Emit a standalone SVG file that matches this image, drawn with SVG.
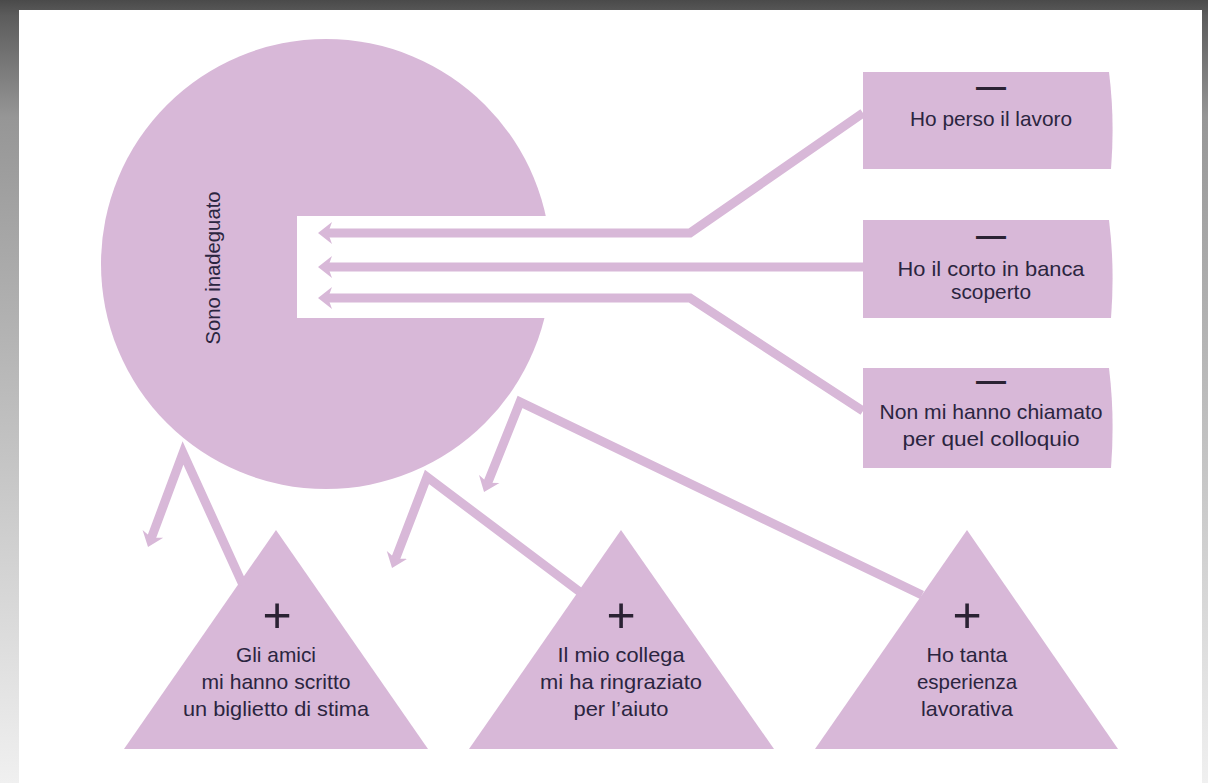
<svg xmlns="http://www.w3.org/2000/svg" width="1208" height="783" viewBox="0 0 1208 783">
  <defs>
    <linearGradient id="frameShade" x1="0" y1="0" x2="0" y2="1">
      <stop offset="0" stop-color="#4a4a4a"/>
      <stop offset="0.02" stop-color="#5c5c5c"/>
      <stop offset="0.15" stop-color="#969696"/>
      <stop offset="1" stop-color="#f0f0f0"/>
    </linearGradient>
    <marker id="head" markerUnits="userSpaceOnUse" markerWidth="16" markerHeight="24" viewBox="0 0 16 24" refX="6" refY="12" orient="auto">
      <path d="M0,1 L14,12 L0,23 L4,12 Z" fill="#d8b8d8"/>
    </marker>
    <style>
      .shape { fill: #d8b8d8; }
      .link { fill: none; stroke: #d8b8d8; stroke-width: 9; stroke-linejoin: miter; stroke-miterlimit: 10; marker-end: url(#head); }
      .lbl { font-family: "Liberation Sans", Arial, sans-serif; font-size: 21px; fill: #2b2540; text-anchor: middle; }
      .sign { font-family: "Liberation Sans", Arial, sans-serif; fill: #2a2233; text-anchor: middle; }
      .minus { font-size: 30px; font-weight: bold; }
      .plus { font-size: 50px; }
    </style>
  </defs>

  <!-- photo frame -->
  <rect x="0" y="0" width="1208" height="783" fill="url(#frameShade)"/>
  <rect x="19" y="10" width="1183" height="773" fill="#ffffff"/>

  <!-- central belief -->
  <g id="belief">
    <circle class="shape" cx="326" cy="264" r="225"/>
    <rect x="297" y="216" width="270" height="102" fill="#ffffff"/>
    <text class="lbl" transform="translate(220,268) rotate(-90)" textLength="153" lengthAdjust="spacingAndGlyphs">Sono inadeguato</text>
  </g>

  <!-- negative facts -->
  <g id="neg-lavoro">
    <path class="shape" d="M863,72 H1109 Q1115,120 1111,169 H863 Z"/>
    <text class="sign minus" x="991" y="97">—</text>
    <text class="lbl" x="991" y="126" textLength="162" lengthAdjust="spacingAndGlyphs">Ho perso il lavoro</text>
  </g>
  <g id="neg-conto">
    <path class="shape" d="M863,220 H1109 Q1115,268 1111,318 H863 Z"/>
    <text class="sign minus" x="991" y="246">—</text>
    <text class="lbl" x="991" y="276" textLength="187" lengthAdjust="spacingAndGlyphs">Ho il corto in banca</text>
    <text class="lbl" x="991" y="299" textLength="80" lengthAdjust="spacingAndGlyphs">scoperto</text>
  </g>
  <g id="neg-colloquio">
    <path class="shape" d="M863,368 H1109 Q1115,417 1111,468 H863 Z"/>
    <text class="sign minus" x="991" y="391">—</text>
    <text class="lbl" x="991" y="419" textLength="223" lengthAdjust="spacingAndGlyphs">Non mi hanno chiamato</text>
    <text class="lbl" x="991" y="446" textLength="177" lengthAdjust="spacingAndGlyphs">per quel colloquio</text>
  </g>

  <!-- positive facts -->
  <g id="pos-amici">
    <polygon class="shape" points="276,530 124,749 428,749"/>
    <text class="sign plus" x="277" y="632">+</text>
    <text class="lbl" x="276" y="662" textLength="80" lengthAdjust="spacingAndGlyphs">Gli amici</text>
    <text class="lbl" x="276" y="689" textLength="149" lengthAdjust="spacingAndGlyphs">mi hanno scritto</text>
    <text class="lbl" x="276" y="716" textLength="186" lengthAdjust="spacingAndGlyphs">un biglietto di stima</text>
  </g>
  <g id="pos-collega">
    <polygon class="shape" points="621,530 469,749 774,749"/>
    <text class="sign plus" x="621" y="632">+</text>
    <text class="lbl" x="621" y="662" textLength="127" lengthAdjust="spacingAndGlyphs">Il mio collega</text>
    <text class="lbl" x="621" y="689" textLength="162" lengthAdjust="spacingAndGlyphs">mi ha ringraziato</text>
    <text class="lbl" x="621" y="716" textLength="95" lengthAdjust="spacingAndGlyphs">per l’aiuto</text>
  </g>
  <g id="pos-esperienza">
    <polygon class="shape" points="967,530 815,749 1118,749"/>
    <text class="sign plus" x="967" y="632">+</text>
    <text class="lbl" x="967" y="662" textLength="81" lengthAdjust="spacingAndGlyphs">Ho tanta</text>
    <text class="lbl" x="967" y="689" textLength="100" lengthAdjust="spacingAndGlyphs">esperienza</text>
    <text class="lbl" x="967" y="716" textLength="92" lengthAdjust="spacingAndGlyphs">lavorativa</text>
  </g>

  <!-- connectors -->
  <g id="connectors">
    <path class="link" d="M863,113 L690,233 L326,233"/>
    <path class="link" d="M864,267 L326,267"/>
    <path class="link" d="M863,411 L690,298 L326,298"/>
    <path class="link" d="M243,585 L183,453 L150.8,539.5"/>
    <path class="link" d="M580,592 L427,477 L394.9,560.5"/>
    <path class="link" d="M922,595 L520,402 L487,484.6"/>
  </g>
</svg>
